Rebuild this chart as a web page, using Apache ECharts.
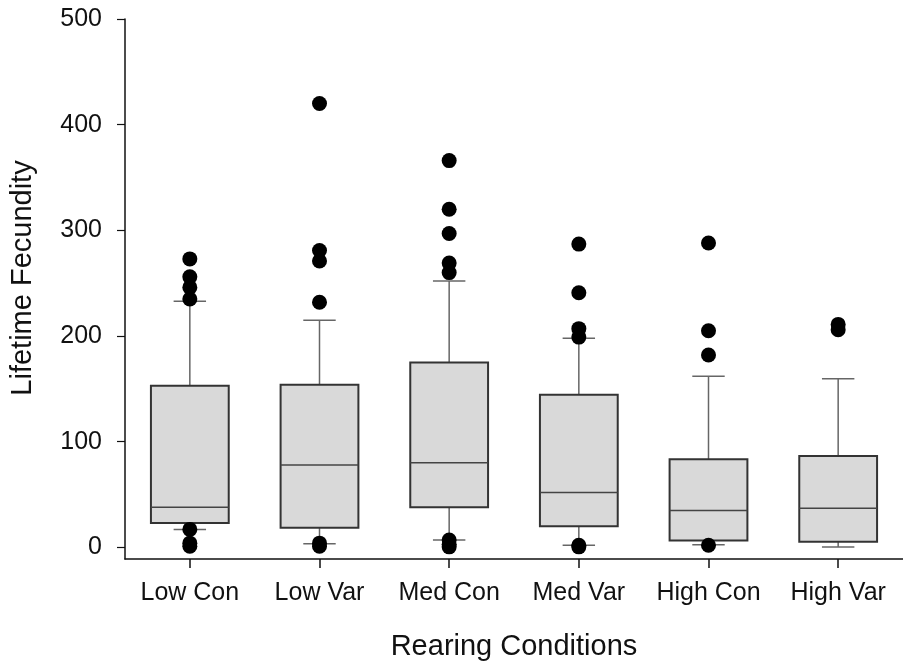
<!DOCTYPE html>
<html>
<head>
<meta charset="utf-8">
<script src="https://cdn.jsdelivr.net/npm/echarts@6/dist/echarts.min.js"></script>
<style>
html,body{margin:0;padding:0;background:#fff;}
#chart{width:903px;height:666px;}
</style>
</head>
<body>
<div id="chart"></div>
<script>
// ---- data ----
var categories = ['Low Con', 'Low Var', 'Med Con', 'Med Var', 'High Con', 'High Var'];
var lowWhisker  = [17, 3.5, 7, 2, 2.5, 0.3];
var q1Values    = [23, 18.5, 38, 20, 6.6, 5.3];
var medianVals  = [38, 78, 80, 52, 35, 37];
var q3Values    = [153, 154, 175, 144.5, 83.5, 86.5];
var highWhisker = [233, 215, 252, 198, 162, 159.5];
var outliersLowCon  = [273, 256, 246, 235, 17, 4, 1];
var outliersLowVar  = [420, 281, 271, 232, 4, 1];
var outliersMedCon  = [366, 320, 297, 269, 260, 7, 3, 0.5];
var outliersMedVar  = [287, 241, 207, 199, 2, 0.5];
var outliersHighCon = [288, 205, 182, 2];
var outliersHighVar = [211, 206];
var yTickLabels = [0, 100, 200, 300, 400, 500];

var allOutliers = [outliersLowCon, outliersLowVar, outliersMedCon, outliersMedVar, outliersHighCon, outliersHighVar];
var boxData = categories.map(function (c, i) {
  return [i, lowWhisker[i], q1Values[i], medianVals[i], q3Values[i], highWhisker[i]];
});
var outlierData = [];
allOutliers.forEach(function (arr, i) {
  arr.forEach(function (v) { outlierData.push([i, v]); });
});

var FONT = 'Liberation Sans, Arial, Helvetica, sans-serif';
var chart = echarts.init(document.getElementById('chart'), null, {renderer: 'canvas'});

chart.setOption({
  animation: false,
  backgroundColor: '#ffffff',
  grid: {left: 122, right: 0, top: 19, bottom: 102, containLabel: false},
  xAxis: {
    type: 'category',
    data: categories,
    boundaryGap: true,
    name: 'Rearing Conditions',
    nameLocation: 'middle',
    nameGap: 73,
    nameTextStyle: {fontFamily: FONT, fontSize: 29, color: '#111'},
    axisLine: {onZero: false, lineStyle: {color: '#111', width: 1.5}},
    axisTick: {show: true, alignWithLabel: true, interval: 0, inside: false, length: 9, lineStyle: {color: '#111', width: 1.5}},
    axisLabel: {fontFamily: FONT, fontSize: 25, color: '#111', margin: 22, interval: 0, hideOverlap: false},
    splitLine: {show: false}
  },
  yAxis: {
    type: 'value',
    min: -11,
    max: 500,
    name: 'Lifetime Fecundity',
    nameLocation: 'middle',
    nameGap: 88,
    nameRotate: 90,
    nameTextStyle: {fontFamily: FONT, fontSize: 29, color: '#111', padding: [0, 0, 0, 22]},
    axisLine: {show: true, onZero: false, lineStyle: {color: '#111', width: 1.5}},
    axisTick: {show: true, length: 8, customValues: yTickLabels, lineStyle: {color: '#111', width: 1.2}},
    axisLabel: {fontFamily: FONT, fontSize: 25, color: '#111', margin: 23, customValues: yTickLabels},
    splitLine: {show: false}
  },
  series: [
    {
      type: 'custom',
      data: boxData,
      encode: {x: 0, y: [1, 2, 3, 4, 5]},
      z: 2,
      renderItem: function (params, api) {
        var idx = api.value(0);
        var pMin = api.coord([idx, api.value(1)]);
        var pQ1 = api.coord([idx, api.value(2)]);
        var pMed = api.coord([idx, api.value(3)]);
        var pQ3 = api.coord([idx, api.value(4)]);
        var pMax = api.coord([idx, api.value(5)]);
        var band = api.size([1, 0])[0];
        var bw = band * 0.6;
        var cw = band * 0.25;
        var cx = pMed[0];
        var whiskerStyle = {stroke: '#666', lineWidth: 1.5};
        return {
          type: 'group',
          children: [
            {type: 'line', shape: {x1: cx, y1: pQ3[1], x2: cx, y2: pMax[1]}, style: whiskerStyle},
            {type: 'line', shape: {x1: cx, y1: pQ1[1], x2: cx, y2: pMin[1]}, style: whiskerStyle},
            {type: 'line', shape: {x1: cx - cw / 2, y1: pMax[1], x2: cx + cw / 2, y2: pMax[1]}, style: whiskerStyle},
            {type: 'line', shape: {x1: cx - cw / 2, y1: pMin[1], x2: cx + cw / 2, y2: pMin[1]}, style: whiskerStyle},
            {type: 'rect', shape: {x: cx - bw / 2, y: pQ3[1], width: bw, height: pQ1[1] - pQ3[1]},
              style: {fill: '#d9d9d9', stroke: '#333', lineWidth: 2}},
            {type: 'line', shape: {x1: cx - bw / 2, y1: pMed[1], x2: cx + bw / 2, y2: pMed[1]},
              style: {stroke: '#444', lineWidth: 1.5}}
          ]
        };
      }
    },
    {
      type: 'scatter',
      data: outlierData,
      symbol: 'circle',
      symbolSize: 15,
      z: 5,
      itemStyle: {color: '#000', opacity: 1}
    }
  ]
});
</script>
</body>
</html>
